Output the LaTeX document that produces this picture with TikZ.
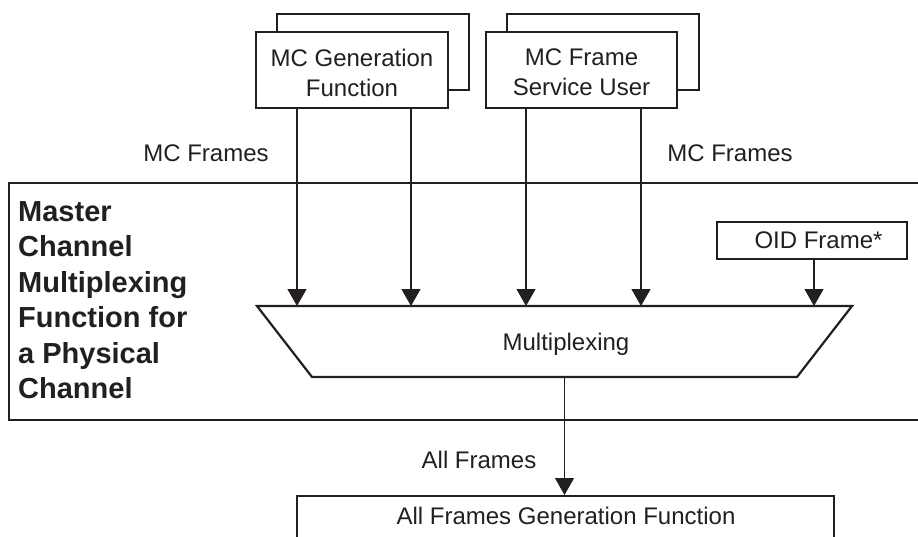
\documentclass[tikz,border=0pt]{standalone}
\usepackage{fontspec}
\setmainfont{Liberation Sans}
\usetikzlibrary{arrows.meta}
\definecolor{ink}{RGB}{35,31,32}
\begin{document}
\begin{tikzpicture}[x=1pt,y=-1pt,
  txt/.style={font=\fontsize{24}{30}\selectfont, text=ink, inner sep=0pt, align=center},
  fnbox/.style={draw=ink, line width=2pt, fill=white, minimum width=192pt, minimum height=76pt},
  arr/.style={draw=ink, line width=1.3pt, -{Triangle[length=17pt,width=19pt]}},
  ttl/.style={font=\fontsize{29}{35.5}\selectfont\bfseries, text=ink, inner sep=0pt, align=left, anchor=north west}
]
\useasboundingbox (0,0) rectangle (918,536);

% outer function box (open on the right)
\begin{scope}
\clip (0,0) rectangle (918,536);
\draw[ink, line width=2pt] (930,183) -- (9,183) -- (9,420) -- (930,420);
\end{scope}
\node[ttl] (title) at (18,201.2) {Master\\Channel\\Multiplexing\\Function for\\a Physical\\Channel};

% stacked source boxes
\node[fnbox] (genb) at (373,52) {};
\node[fnbox] (gen) at (352,70) {};
\node[txt] (gent) at (352,72.5) {MC Generation\\Function};
\node[fnbox] (usrb) at (603,52) {};
\node[fnbox, minimum width=191pt] (usr) at (581.5,70) {};
\node[txt] (usrt) at (581.5,72.5) {MC Frame\\Service User};

% multiplexer trapezoid
\coordinate (mtl) at (257,306);
\coordinate (mtr) at (852,306);
\coordinate (mbr) at (797,377);
\coordinate (mbl) at (312,377);
\draw[ink, line width=2.2pt, fill=white, line join=miter] (mtl) -- (mtr) -- (mbr) -- (mbl) -- cycle;
\node[txt] (mux) at (566,344) {Multiplexing};
\coordinate (t1) at (297,306);
\coordinate (t2) at (411,306);
\coordinate (t3) at (526,306);
\coordinate (t4) at (641,306);
\coordinate (t5) at (814,306);
\coordinate (mo) at (564.5,377);

% OID frame
\node[draw=ink, line width=2pt, minimum width=190pt, minimum height=37pt, txt] (oid) at (812,240.5) {\hspace*{13pt}OID Frame*};

% arrows into multiplexer
\draw[arr] (t1 |- gen.south) -- (t1);
\draw[arr] (t2 |- gen.south) -- (t2);
\draw[arr] (t3 |- usr.south) -- (t3);
\draw[arr] (t4 |- usr.south) -- (t4);
\draw[arr] (t5 |- oid.south) -- (t5);

\node[txt] (lblL) at (206,153) {MC Frames};
\node[txt] (lblR) at (730,153) {MC Frames};

% all frames generation
\node[draw=ink, line width=2pt, minimum width=537pt, minimum height=42pt, anchor=north west] (afg) at (296,495) {};
\node[txt] (afgt) at (566,516) {All Frames Generation Function};
\draw[arr] (mo) -- (mo |- afg.north);
\node[txt] (lblA) at (479,460) {All Frames};
\end{tikzpicture}
\end{document}
